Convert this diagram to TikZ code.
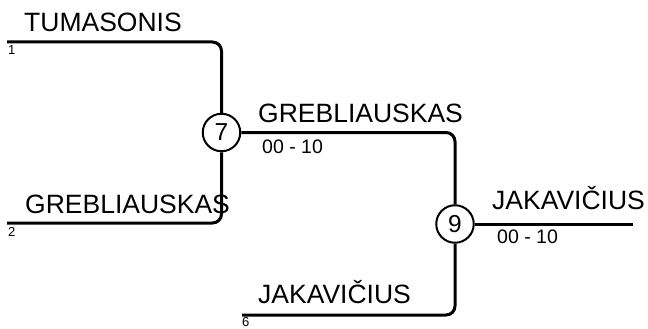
\documentclass[tikz,border=0pt]{standalone}
\usepackage{fontspec}
\setmainfont{Liberation Sans}
\begin{document}
\begin{tikzpicture}[x=1pt,y=-1pt,
  player/.style={anchor=base west,inner sep=0pt,font=\fontsize{26.5}{30}\selectfont},
  seed/.style={anchor=base west,inner sep=0pt,font=\fontsize{13}{14}\selectfont},
  score/.style={anchor=base west,inner sep=0pt,font=\fontsize{19.5}{22}\selectfont},
  match/.style={circle,draw,line width=2pt,minimum size=37.5pt,inner sep=0pt,fill=white,font=\fontsize{24.5}{26}\selectfont},
  link/.style={line width=3pt,rounded corners=9pt}]
\useasboundingbox (0,0) rectangle (648,329);
% matches
\node[match] (c7) at (221.5,132.5) {7};
\node[match] (c9) at (455,224) {9};
% free ends
\coordinate (s1) at (7,42);
\coordinate (s2) at (7,223);
\coordinate (s6) at (242,315);
\coordinate (e9) at (633,224);
% connectors
\draw[link] (s1) -| (c7);
\draw[link] (s2) -| (c7);
\draw[link] (c7) -| (c9);
\draw[link] (s6) -| (c9);
\draw[link] (c9) -- (e9);
% labels
\node[player] (n1) at (24,32) {TUMASONIS};
\node[seed] (d1) at (8,55) {1};
\node[player] (n2) at (25,213) {GREBLIAUSKAS};
\node[seed] (d2) at (8,236) {2};
\node[player] (n7) at (258,122) {GREBLIAUSKAS};
\node[score] (r7) at (262,153) {00 - 10};
\node[player] (n9) at (492,209) {JAKAVIČIUS};
\node[score] (r9) at (497,243) {00 - 10};
\node[player] (n6) at (258,303) {JAKAVIČIUS};
\node[seed] (d6) at (242,326.5) {6};
\end{tikzpicture}
\end{document}
